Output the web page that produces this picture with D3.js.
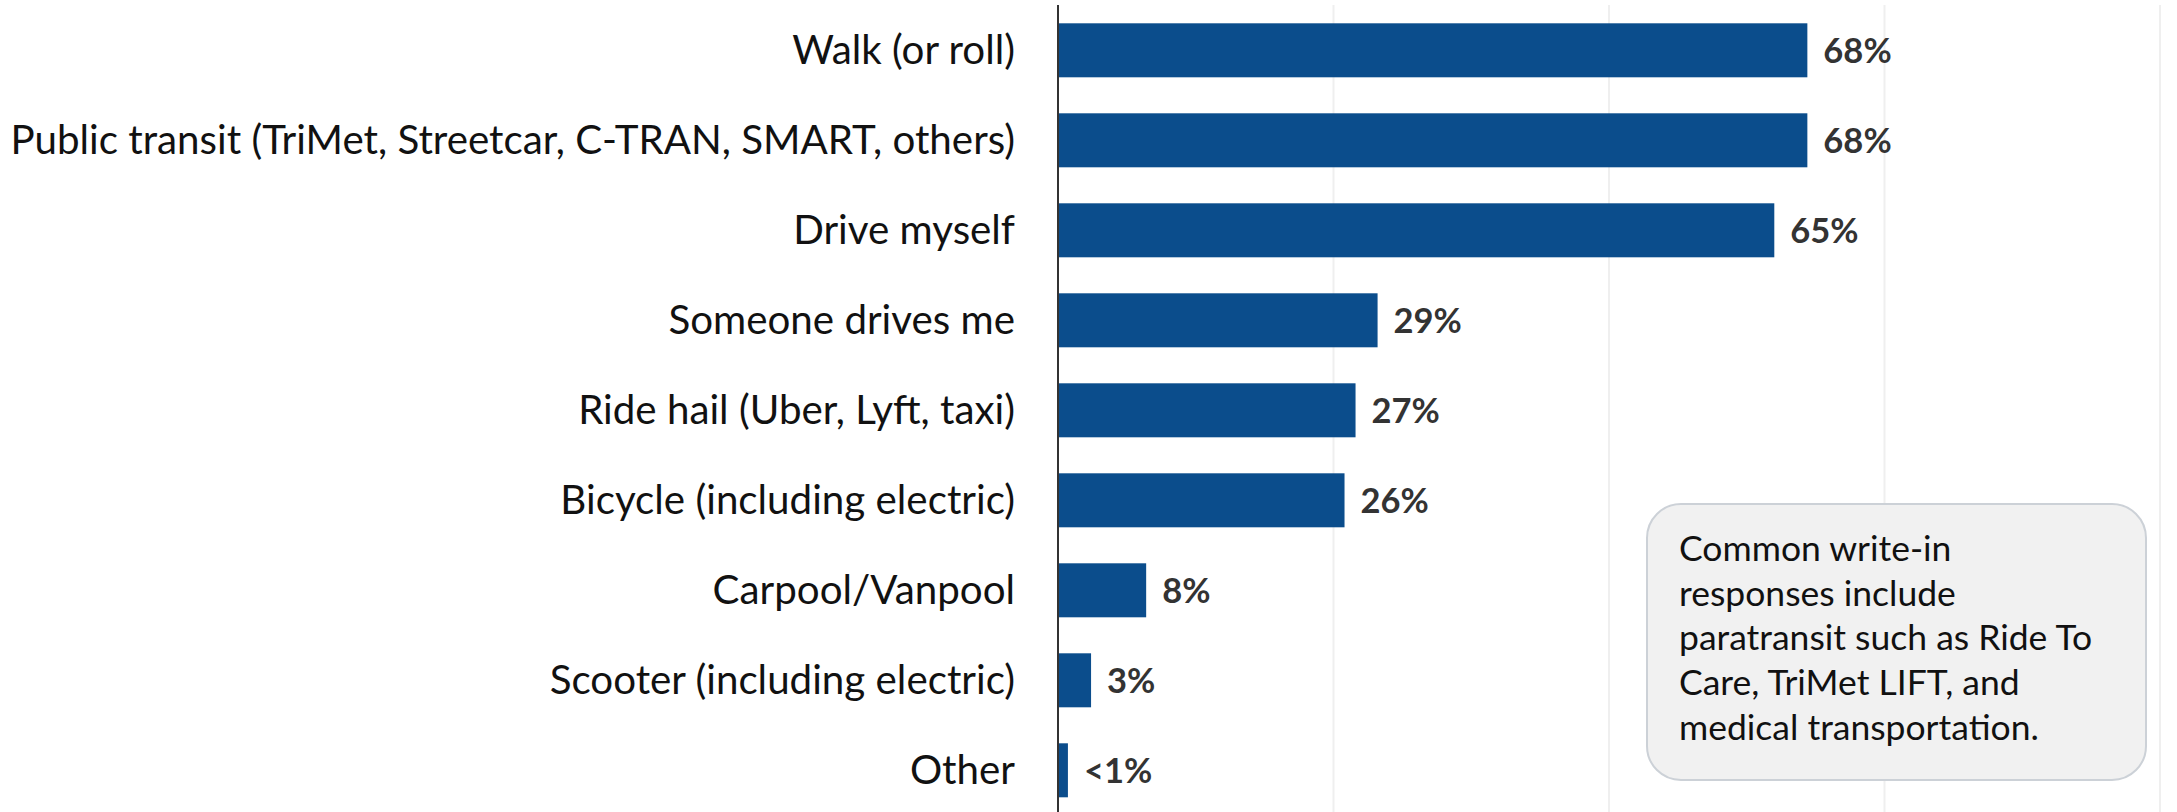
<!DOCTYPE html>
<html>
<head>
<meta charset="utf-8">
<script src="https://cdn.jsdelivr.net/npm/d3@7"></script>
<style>
  html, body { margin: 0; padding: 0; background: #fff; }
  svg { display: block; }
</style>
</head>
<body>
<svg id="chart" width="2177" height="812"></svg>
<script>
// Transportation modes used, share of respondents (%)
const categories = [
  "Walk (or roll)",
  "Public transit (TriMet, Streetcar, C-TRAN, SMART, others)",
  "Drive myself",
  "Someone drives me",
  "Ride hail (Uber, Lyft, taxi)",
  "Bicycle (including electric)",
  "Carpool/Vanpool",
  "Scooter (including electric)",
  "Other"
];
const values = [68, 68, 65, 29, 27, 26, 8, 3, 0.9];
const valueLabels = ["68%", "68%", "65%", "29%", "27%", "26%", "8%", "3%", "<1%"];
const gridTicks = [25, 50, 75, 100];
const noteLines = [
  "Common write-in",
  "responses include",
  "paratransit such as Ride To",
  "Care, TriMet LIFT, and",
  "medical transportation."
];

const width = 2177, height = 812;
const FONT = "Lato, 'Noto Sans', sans-serif";
const BAR = "#0b4d8c";

const svg = d3.select("#chart");

const x = d3.scaleLinear().domain([0, 100]).range([1058, 2160]);
const y = d3.scaleBand()
  .domain(categories)
  .range([5.3, 815.3])
  .paddingInner(0.4)
  .paddingOuter(0.2);

const plotTop = 5, plotBottom = height;

// vertical gridlines
svg.append("g")
  .selectAll("line")
  .data(gridTicks)
  .join("line")
  .attr("x1", d => x(d)).attr("x2", d => x(d))
  .attr("y1", plotTop).attr("y2", plotBottom)
  .attr("stroke", "#efefef")
  .attr("stroke-width", 2);

// bars
svg.append("g")
  .selectAll("rect")
  .data(values)
  .join("rect")
  .attr("x", x(0))
  .attr("y", (d, i) => y(categories[i]))
  .attr("width", d => x(d) - x(0))
  .attr("height", y.bandwidth())
  .attr("fill", BAR);

// category axis (labels on the left, baseline at zero)
const yAxis = d3.axisLeft(y).tickSize(0).tickPadding(43);
const gy = svg.append("g")
  .attr("transform", `translate(${x(0)},0)`)
  .call(yAxis);
gy.select(".domain").remove();
gy.selectAll("text")
  .attr("font-family", FONT)
  .attr("font-size", 40.3)
  .attr("fill", "#111")
  .attr("dy", "0.33em");

svg.append("line")
  .attr("x1", x(0)).attr("x2", x(0))
  .attr("y1", plotTop).attr("y2", plotBottom)
  .attr("stroke", "#333")
  .attr("stroke-width", 2);

// value labels
svg.append("g")
  .selectAll("text")
  .data(values)
  .join("text")
  .attr("x", d => x(d) + 16)
  .attr("y", (d, i) => y(categories[i]) + y.bandwidth() / 2)
  .attr("dy", "0.36em")
  .attr("font-family", FONT)
  .attr("font-weight", 700)
  .attr("font-size", 34.5)
  .attr("fill", "#333")
  .text((d, i) => valueLabels[i]);

// note box
const note = svg.append("g");
note.append("rect")
  .attr("x", 1647).attr("y", 504)
  .attr("width", 499).attr("height", 276)
  .attr("rx", 34).attr("ry", 34)
  .attr("fill", "#f1f1f1")
  .attr("stroke", "#ccd1d7")
  .attr("stroke-width", 2);
note.append("text")
  .attr("font-family", FONT)
  .attr("font-size", 35.5)
  .attr("fill", "#111")
  .selectAll("tspan")
  .data(noteLines)
  .join("tspan")
  .attr("x", 1679)
  .attr("y", (d, i) => 561 + i * 44.7)
  .text(d => d);
</script>
</body>
</html>
